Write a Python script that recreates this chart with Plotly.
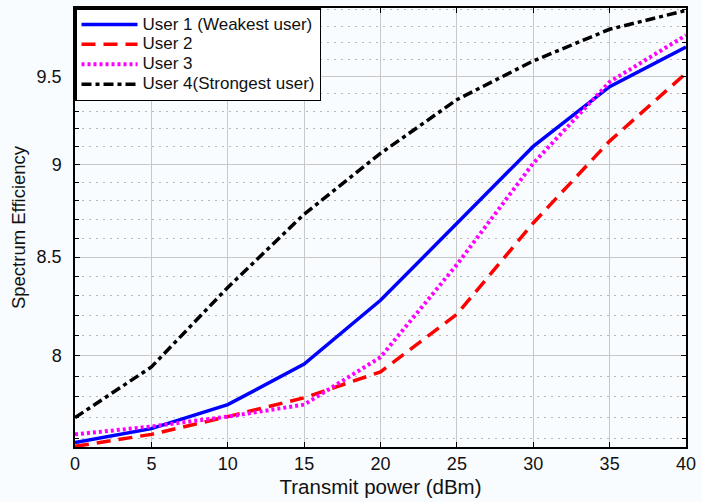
import math
import plotly.graph_objects as go

# Transmit power sweep (dBm) and spectrum efficiency per user
power_dbm = [0, 5, 10, 15, 20, 25, 30, 35, 40]
user1 = [7.583, 7.648, 7.762, 7.958, 8.277, 8.681, 9.100, 9.441, 9.674]
user2 = [7.565, 7.621, 7.705, 7.795, 7.920, 8.206, 8.681, 9.130, 9.520]
user3 = [7.621, 7.658, 7.705, 7.762, 7.992, 8.461, 9.006, 9.469, 9.745]
user4 = [7.700, 7.944, 8.343, 8.728, 9.061, 9.366, 9.592, 9.781, 9.895]

names = ["User 1 (Weakest user)", "User 2", "User 3", "User 4(Strongest user)"]
colors = ["#0000ff", "#ff0000", "#ff00ff", "#000000"]
dashes = ["solid", "14px,8px", "3px,3px", "10px,4px,4px,4px"]
widths = [3.5, 3.5, 4, 3.5]

x_ticks = [0, 5, 10, 15, 20, 25, 30, 35, 40]
y_ticks = [8, 8.5, 9, 9.5]
y_tick_text = ["8", "8.5", "9", "9.5"]
y_minor = [round(7.6 + 0.1 * i, 1) for i in range(24)]
y_min, y_max = 7.562, 9.91

fig = go.Figure()
for ys, name, c, d, w in zip([user1, user2, user3, user4], names, colors, dashes, widths):
    fig.add_trace(go.Scatter(
        x=power_dbm, y=ys, mode="lines",
        # larger label text while keeping compact legend rows
        name=f"<span style='font-size:17px'>{name}</span>",
        line=dict(color=c, dash=d, width=w),
    ))

font_family = "Liberation Sans, Arial, sans-serif"
bg = "#f9fcfe"

fig.update_layout(
    width=702, height=502,
    margin=dict(l=75, r=11, t=6, b=55),
    paper_bgcolor=bg, plot_bgcolor=bg,
    font=dict(family=font_family, size=18, color="#111111"),
    showlegend=True,
    legend=dict(
        x=0, y=1, xanchor="left", yanchor="top",
        bgcolor="#ffffff", bordercolor="#000000", borderwidth=1.5,
        font=dict(size=13, color="#111111"),
        tracegroupgap=0, itemwidth=56,
    ),
    xaxis=dict(
        range=[0, 40], tickmode="array", tickvals=x_ticks,
        showline=True, linecolor="#000000", linewidth=1.5, mirror="ticks",
        ticks="inside", ticklen=5, tickcolor="#000000",
        showgrid=True, gridcolor="#c8c8c8", gridwidth=1.2,
        zeroline=False,
        tickfont=dict(size=18),
        title=dict(text="Transmit power (dBm)", font=dict(size=20.5), standoff=6),
    ),
    yaxis=dict(
        type="log",
        range=[math.log10(y_min), math.log10(y_max)],
        tickmode="array", tickvals=y_ticks, ticktext=y_tick_text,
        showline=True, linecolor="#000000", linewidth=1.5, mirror="ticks",
        ticks="inside", ticklen=5, tickcolor="#000000",
        showgrid=True, gridcolor="#c8c8c8", gridwidth=1.2,
        zeroline=False,
        tickfont=dict(size=18),
        ticklabelstandoff=8,
        title=dict(text="Spectrum Efficiency", font=dict(size=18.5), standoff=6),
        minor=dict(
            tickmode="array", tickvals=y_minor,
            ticks="inside", ticklen=4, tickcolor="#000000",
            showgrid=True, gridcolor="#b8b8b8", griddash="2px,5px", gridwidth=1,
        ),
    ),
)

fig.write_html("out.html")
